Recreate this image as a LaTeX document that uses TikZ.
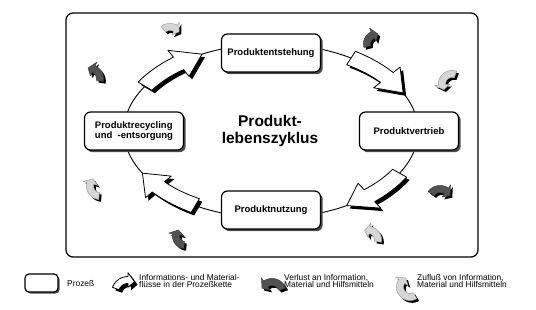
\documentclass[tikz,border=0pt]{standalone}
\usepackage{fontspec}
\setmainfont{Liberation Sans}
\usetikzlibrary{shadows}

% Curved band arrow along an ellipse:
% #1,#2 centre, #3,#4 radii, #5 tail angle, #6 head base angle, #7 tip angle, #8 half band width
\newcommand\bandpath[8]{%
  plot[domain=#5:#6,samples=18,variable=\q] ({#1+(#3+#8)*cos(\q)},{#2+(#4+#8)*sin(\q)})
  -- ({#1+(#3+2.1*#8)*cos(#6)},{#2+(#4+2.1*#8)*sin(#6)})
  -- ({#1+#3*cos(#7)},{#2+#4*sin(#7)})
  -- ({#1+(#3-2.1*#8)*cos(#6)},{#2+(#4-2.1*#8)*sin(#6)})
  -- plot[domain=#6:#5,samples=18,variable=\q] ({#1+(#3-#8)*cos(\q)},{#2+(#4-#8)*sin(\q)})
  -- cycle}

% flow arrow: black extruded shadow, white face
\newcommand\flowarrow[8]{%
  \fill[black,shift={(3,3)}] \bandpath{#1}{#2}{#3}{#4}{#5}{#6}{#7}{#8};
  \filldraw[fill=white,draw=black,line width=0.8pt,line join=round] \bandpath{#1}{#2}{#3}{#4}{#5}{#6}{#7}{#8};}
% loss / supply arrow on a small circle: #1 face colour, #2,#3 centre, #4 radius, #5..#7 angles
\newcommand\sidearrow[7]{%
  \fill[black,shift={(2.2,2.2)}] \bandpath{#2}{#3}{#4}{#4}{#5}{#6}{#7}{3.6};
  \filldraw[fill=#1,draw=#1!70!black,line width=0.4pt,line join=round] \bandpath{#2}{#3}{#4}{#4}{#5}{#6}{#7}{3.6};}

\colorlet{lossgray}{black!68}
\colorlet{supplygray}{black!16}

\tikzset{
  procbox/.style={draw=black,line width=1.2pt,fill=white,rounded corners=6pt,
    minimum width=99pt,minimum height=38pt,inner sep=2pt,
    font=\fontsize{9.5}{10.5}\selectfont\bfseries,
    drop shadow={shadow xshift=2.2pt,shadow yshift=-2.2pt,fill=black!70,opacity=1}},
  legendtext/.style={anchor=west,align=left,inner sep=0pt,
    font=\fontsize{8.4}{7.4}\selectfont},
  cycleline/.style={line width=0.9pt},
}

\begin{document}
\begin{tikzpicture}[x=1pt,y=-1pt]
  \useasboundingbox (0,0) rectangle (536,310);

  % frame
  \draw[line width=1.2pt,rounded corners=7pt] (66,13) rectangle (478,257);

  % life cycle ring
  \draw[cycleline] (271,131) ellipse [x radius=147, y radius=87];

  % process flows along the ring
  \flowarrow{271}{131}{147}{87}{211}{231}{242}{8}
  \flowarrow{271}{131}{147}{87}{303}{322}{334}{8}
  \flowarrow{271}{131}{147}{87}{29}{48}{59}{8}
  \flowarrow{271}{131}{147}{87}{121}{140}{151}{8}

  % processes
  \node[procbox] (pe) at (271,53) {Produktentstehung};
  \node[procbox] (pv) at (409,131) {Produktvertrieb};
  \node[procbox] (pn) at (271,210) {Produktnutzung};
  \node[procbox,align=left] (pr) at (134,131) {Produktrecycling\\und\ \ -entsorgung};

  \node[font=\fontsize{15.5}{17}\selectfont\bfseries,align=center] (title) at (270,131)
    {Produkt-\\lebenszyklus};

  % supply (light) and loss (dark) arrows around the processes
  \sidearrow{supplygray}{170}{38}{11}{232}{300}{326}
  \sidearrow{lossgray}{377}{44}{10}{165}{245}{276}
  \sidearrow{lossgray}{89}{79}{11}{370}{295}{265}
  \sidearrow{supplygray}{452}{84}{10}{290}{175}{145}
  \sidearrow{supplygray}{100}{186}{10}{95}{195}{225}
  \sidearrow{lossgray}{440}{200}{11}{215}{305}{336}
  \sidearrow{lossgray}{185}{236}{9}{95}{190}{222}
  \sidearrow{supplygray}{368}{240}{10}{10}{-80}{-110}

  % legend
  \node[draw=black,line width=1.2pt,fill=white,rounded corners=4pt,
    minimum width=33pt,minimum height=18pt,
    drop shadow={shadow xshift=1.6pt,shadow yshift=-1.6pt,fill=black!70,opacity=1}]
    (lgbox) at (41.5,283) {};
  \node[legendtext] (lgproc) at (67,283) {Prozeß};

  \flowarrow{128}{293}{13}{13}{200}{270}{300}{3.5}
  \node[legendtext] (lgflow) at (139,281) {Informations- und Material-\\flüsse in der Prozeßkette};

  \sidearrow{lossgray}{272}{293}{11}{340}{235}{205}
  \node[legendtext] (lgloss) at (284,281) {Verlust an Information,\\Material und Hilfsmitteln};

  \sidearrow{supplygray}{410}{287}{10}{60}{215}{245}
  \node[legendtext] (lgsupply) at (417,281) {Zufluß von Information,\\Material und Hilfsmitteln};
\end{tikzpicture}
\end{document}
